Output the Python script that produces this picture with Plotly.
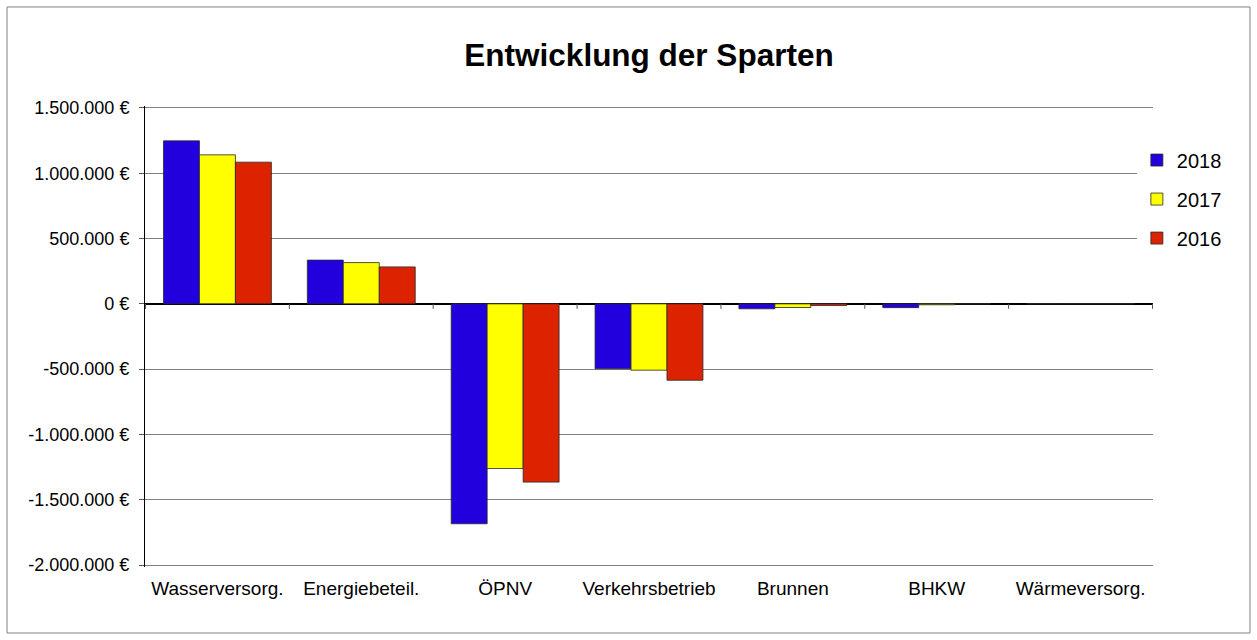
import plotly.graph_objects as go

categories = ["Wasserversorg.", "Energiebeteil.", "ÖPNV", "Verkehrsbetrieb", "Brunnen", "BHKW", "Wärmeversorg."]
v2018 = [1248000, 335000, -1684000, -497000, -38000, -29000, 1500]
v2017 = [1141000, 316000, -1261000, -508000, -28000, -7000, 1500]
v2016 = [1085000, 283000, -1365000, -585000, -13000, 0, 1500]
series_names = ["2018", "2017", "2016"]
series_colors = ["#2200DD", "#FFFF00", "#DD2200"]
tick_vals = [1500000, 1000000, 500000, 0, -500000, -1000000, -1500000, -2000000]
tick_text = ["1.500.000 €", "1.000.000 €", "500.000 €", "0 €", "-500.000 €", "-1.000.000 €", "-1.500.000 €", "-2.000.000 €"]

fig = go.Figure()
for name, vals, col in zip(series_names, [v2018, v2017, v2016], series_colors):
    fig.add_trace(go.Bar(
        x=categories, y=vals, name=name, legendgroup=name,
        marker=dict(color=col, line=dict(color="rgba(40,40,40,0.8)", width=1)),
    ))

# category separator ticks on the zero line
shapes = []
for i in range(len(categories) + 1):
    shapes.append(dict(type="line", xref="x", yref="y", x0=i - 0.5, x1=i - 0.5,
                       ysizemode="pixel", yanchor=0, y0=0, y1=-5,
                       line=dict(color="#555555", width=1)))
# outer frame
shapes.append(dict(type="rect", xref="paper", yref="paper",
                   x0=-0.1369, x1=1.0962, y0=-0.1432, y1=1.2148,
                   line=dict(color="#808080", width=1)))

fig.update_layout(
    width=1257, height=640,
    margin=dict(l=145, r=104, t=106, b=73),
    paper_bgcolor="white", plot_bgcolor="white",
    barmode="group", bargap=0.25, bargroupgap=0,
    title=dict(text="<b>Entwicklung der Sparten</b>", x=0.5, xref="paper",
               y=0.914, yref="container", yanchor="middle",
               font=dict(family="Liberation Sans, Arial", size=31.5, color="black")),
    font=dict(family="Liberation Sans, Arial", color="black"),
    legend=dict(x=0.984, y=0.925, xanchor="left", yanchor="top",
                font=dict(size=20), tracegroupgap=10, itemwidth=30),
    shapes=shapes,
    showlegend=True,
)
fig.update_yaxes(
    range=[-2015000, 1515000], tickvals=tick_vals, ticktext=tick_text,
    showgrid=True, gridcolor="#808080", gridwidth=1,
    zeroline=True, zerolinecolor="black", zerolinewidth=2,
    showline=True, linecolor="black", linewidth=1,
    ticks="outside", ticklen=5, tickcolor="#555555",
    tickfont=dict(size=18), ticklabelstandoff=6,
)
fig.update_xaxes(
    showline=False, ticks="", tickfont=dict(size=19), showgrid=False,
    ticklabelstandoff=8,
)

fig.write_html("out.html", post_script="document.body.style.margin='0';",
               config={"displayModeBar": False})
